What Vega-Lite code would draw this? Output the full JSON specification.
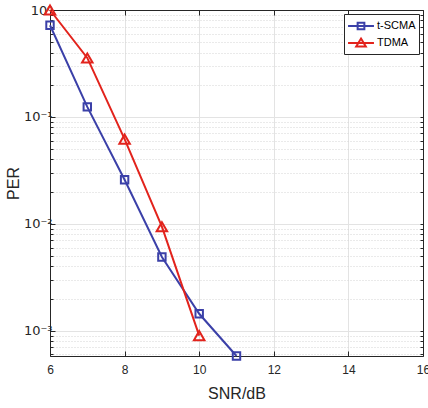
{
  "$schema": "https://vega.github.io/schema/vega-lite/v6.json",
  "width": 373,
  "height": 346,
  "autosize": "none",
  "padding": {"left": 50, "top": 10, "right": 5, "bottom": 52},
  "background": "white",
  "config": {
    "view": {"stroke": null},
    "font": "Liberation Sans",
    "axis": {"labelFont": "Liberation Sans", "titleFont": "Liberation Sans", "labelColor": "#262626", "titleColor": "#262626", "domainColor": "#262626", "tickColor": "#262626", "titleFontWeight": "normal"}
  },
  "data": {"values": [
    {"snr": 6, "per": 0.72, "series": "t-SCMA"},
    {"snr": 7, "per": 0.124, "series": "t-SCMA"},
    {"snr": 8, "per": 0.0258, "series": "t-SCMA"},
    {"snr": 9, "per": 0.0049, "series": "t-SCMA"},
    {"snr": 10, "per": 0.00144, "series": "t-SCMA"},
    {"snr": 11, "per": 0.00058, "series": "t-SCMA"},
    {"snr": 6, "per": 1.0, "series": "TDMA"},
    {"snr": 7, "per": 0.356, "series": "TDMA"},
    {"snr": 8, "per": 0.062, "series": "TDMA"},
    {"snr": 9, "per": 0.0094, "series": "TDMA"},
    {"snr": 10, "per": 0.0009, "series": "TDMA"}
  ]},
  "resolve": {"axis": {"x": "independent", "y": "independent"}},
  "layer": [
    {
      "mark": {"type": "point", "opacity": 0},
      "encoding": {
        "x": {"field": "snr", "type": "quantitative", "scale": {"domain": [6, 16], "nice": false},
          "axis": {"orient": "top", "values": [6, 8, 10, 12, 14, 16], "labels": false, "title": null, "grid": false, "tickSize": -5, "domainWidth": 1}},
        "y": {"field": "per", "type": "quantitative", "scale": {"type": "log", "domain": [0.00058, 1], "nice": false},
          "axis": {"orient": "left", "values": [0.0006, 0.0007, 0.0008, 0.0009, 0.002, 0.003, 0.004, 0.005, 0.006, 0.007, 0.008, 0.009, 0.02, 0.03, 0.04, 0.05, 0.06, 0.07, 0.08, 0.09, 0.2, 0.3, 0.4, 0.5, 0.6, 0.7, 0.8, 0.9],
            "labels": false, "title": null, "grid": true, "gridColor": "#d4d4d4", "gridDash": [1, 2], "gridWidth": 1, "tickSize": -3, "domain": false}}
      }
    },
    {
      "mark": {"type": "point", "opacity": 0},
      "encoding": {
        "x": {"field": "snr", "type": "quantitative", "axis": null},
        "y": {"field": "per", "type": "quantitative",
          "axis": {"orient": "right", "values": [0.0006, 0.0007, 0.0008, 0.0009, 0.001, 0.002, 0.003, 0.004, 0.005, 0.006, 0.007, 0.008, 0.009, 0.01, 0.02, 0.03, 0.04, 0.05, 0.06, 0.07, 0.08, 0.09, 0.1, 0.2, 0.3, 0.4, 0.5, 0.6, 0.7, 0.8, 0.9, 1],
            "labels": false, "title": null, "grid": false, "tickSize": -3, "domainWidth": 1}}
      }
    },
    {
      "mark": {"type": "line", "strokeWidth": 2},
      "encoding": {
        "x": {"field": "snr", "type": "quantitative",
          "axis": {"orient": "bottom", "values": [6, 8, 10, 12, 14, 16], "title": "SNR/dB", "titleFontSize": 16, "titlePadding": 10, "labelFontSize": 12, "labelPadding": 13, "grid": true, "gridColor": "#e3e3e3", "tickSize": -5, "domainWidth": 1, "labelFlush": false}},
        "y": {"field": "per", "type": "quantitative",
          "axis": {"orient": "left", "values": [1, 0.1, 0.01, 0.001], "labelExpr": "'10' + (datum.value >= 0.99 ? '⁰' : datum.value >= 0.099 ? '⁻¹' : datum.value >= 0.0099 ? '⁻²' : '⁻³')",
            "labelFont": "DejaVu Sans", "title": "PER", "titleFontSize": 16, "titlePadding": 2, "labelFontSize": 13, "labelPadding": 3, "grid": true, "gridColor": "#e3e3e3", "tickSize": -5, "domainWidth": 1}},
        "color": {"field": "series", "type": "nominal",
          "scale": {"domain": ["t-SCMA", "TDMA"], "range": ["#3B40A8", "#E2231C"]},
          "legend": {"orient": "top-right", "offset": 4, "title": null, "labelFontSize": 11, "labelColor": "#000000", "strokeColor": "#262626", "fillColor": "white", "padding": 3, "rowPadding": 0, "symbolSize": 256, "symbolStrokeWidth": 2, "symbolOffset": 5, "labelOffset": 7,
            "encode": {"symbols": {"update": {"shape": {"signal": "datum.value === 'TDMA' ? 'M-1.62,0L1.62,0M0,-0.55L0.6,0.45L-0.6,0.45Z' : 'M-1.62,0L1.62,0M-0.42,-0.42L0.42,-0.42L0.42,0.42L-0.42,0.42Z'"}, "size": {"value": 256}, "fill": {"value": "transparent"}}}}}}
      }
    },
    {
      "transform": [{"filter": "datum.series === 't-SCMA'"}],
      "mark": {"type": "point", "shape": "square", "size": 55, "filled": false, "strokeWidth": 2, "opacity": 1},
      "encoding": {
        "x": {"field": "snr", "type": "quantitative", "axis": null},
        "y": {"field": "per", "type": "quantitative", "axis": null},
        "color": {"field": "series", "type": "nominal", "legend": null}
      }
    },
    {
      "transform": [{"filter": "datum.series === 'TDMA'"}],
      "mark": {"type": "point", "shape": "triangle-up", "size": 110, "filled": false, "strokeWidth": 2, "opacity": 1},
      "encoding": {
        "x": {"field": "snr", "type": "quantitative", "axis": null},
        "y": {"field": "per", "type": "quantitative", "axis": null},
        "color": {"field": "series", "type": "nominal", "legend": null}
      }
    }
  ]
}
